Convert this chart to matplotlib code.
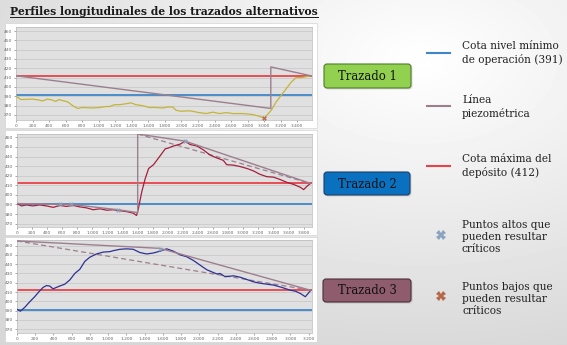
import numpy as np
import matplotlib
matplotlib.use('Agg')
import matplotlib.pyplot as plt
from matplotlib.patches import Rectangle, FancyBboxPatch
from matplotlib.lines import Line2D

# ---- datos ----
# Trazado 1 (perfil del terreno)
t1_x = [0, 60, 200, 280, 320, 380, 440, 480, 520, 560, 625, 685, 745, 805, 930, 1010,
        1090, 1130, 1190, 1250, 1330, 1390, 1450, 1530, 1610, 1690, 1770, 1835, 1895,
        1935, 1995, 2100, 2215, 2300, 2380, 2460, 2540, 2620, 2740, 2860, 2945, 3000,
        3085, 3145, 3205, 3265, 3325, 3385, 3445, 3505, 3565]
t1_z = [390, 386.5, 387, 386, 385, 387, 386, 384.5, 386.5, 385.5, 384, 380, 377, 378,
        377.5, 378, 379, 379, 381, 381, 382, 383, 381, 380, 378, 378, 377.5, 378.5,
        378.5, 375, 374, 374.5, 372.5, 371.5, 373, 371.5, 372.5, 371.5, 371.5, 370.5,
        368.5, 366.5, 375, 384, 391, 398, 405, 410, 410, 411, 412]
t1_piezo_x = [0, 3080, 3080, 3565]
t1_piezo_z = [412, 377, 421.5, 412]
t1_bajos_x = [3000]
t1_bajos_z = [366.5]

# Trazado 2
t2_x = [0, 60, 125, 210, 300, 390, 480, 570, 655, 745, 830, 920, 1010, 1100, 1190, 1275,
        1365, 1455, 1540, 1585, 1610, 1655, 1700, 1745, 1810, 1900, 1965, 2010, 2075,
        2165, 2230, 2295, 2385, 2470, 2560, 2650, 2735, 2780, 2870, 2960, 3050, 3135,
        3220, 3310, 3400, 3490, 3580, 3665, 3755, 3800, 3845, 3890]
t2_z = [391, 388.5, 389.5, 388.5, 389.5, 388.5, 387, 389, 388, 389, 387.5, 386.5, 384.5,
        385.5, 384, 384.5, 383.5, 382.5, 381, 378.5, 386, 403.5, 417, 427.5, 431.5, 441,
        448, 449, 451, 453, 456, 452.5, 451, 447, 441.5, 438.5, 436, 431.5, 431, 429.5,
        427.5, 425, 421.5, 419, 418.5, 416, 413, 411, 408, 405.5, 409, 412]
t2_piezo_x = [0, 567, 722, 1341, 1600, 1600, 2230, 3890]
t2_piezo_z = [391, 390, 390, 384.5, 381.5, 463.5, 456, 412]
t2_recta_x = [1600, 3890]
t2_recta_z = [463.5, 412]
t2_altos_x = [567, 722, 1341, 2230]
t2_altos_z = [390, 390, 384.5, 456]

# Trazado 3
t3_x = [0, 37, 84, 139, 194, 242, 286, 323, 359, 396, 432, 469, 524, 579, 634, 689, 744,
        799, 872, 946, 1019, 1056, 1129, 1202, 1275, 1349, 1422, 1495, 1569, 1642, 1715,
        1789, 1862, 1935, 2008, 2082, 2155, 2192, 2228, 2283, 2375, 2448, 2522, 2595,
        2668, 2741, 2815, 2906, 2998, 3053, 3108, 3163, 3218]
t3_z = [391.5, 389.5, 393.5, 399.5, 405, 410.5, 415, 417, 416.5, 413.5, 415, 416.5, 418.5,
        423, 430, 434.5, 443, 447.5, 451, 453, 453.5, 454.5, 456, 456.5, 456, 452.5, 451,
        452, 454, 456.5, 454, 450, 448, 444, 439, 434, 431, 429.5, 430, 426.5, 427.5,
        426, 423.5, 421, 419.5, 418.5, 417.5, 415, 412, 411, 408.5, 405, 411.5]
t3_piezo_x = [0, 1569, 3218]
t3_piezo_z = [465, 457, 412]
t3_recta_x = [0, 3218]
t3_recta_z = [465, 412]
t3_altos_x = [1569]
t3_altos_z = [456.5]

cota_min = 391
cota_max = 412

W, H = 567, 345
SERIF = 'DejaVu Serif'

fig = plt.figure(figsize=(W / 100, H / 100), dpi=100)

# fondo de la diapositiva (coordenadas en píxeles)
bg = fig.add_axes([0, 0, 1, 1])
bg.set_xlim(0, W)
bg.set_ylim(H, 0)
bg.axis('off')
yy, xx = np.mgrid[0:H, 0:W]
d = np.hypot((xx - 420) / W, (yy - 60) / H)
g = 1 - 0.16 * np.clip(d / 0.9, 0, 1)
bg.imshow(g, cmap='gray', vmin=0, vmax=1, extent=(0, W, H, 0), aspect='auto', zorder=0)

ROJO = '#e8424a'
AZUL = '#3f86c8'
PIEZO = '#9c7f8f'
ALTO = '#8aa4bf'
BAJO = '#b5694a'


def panel(plot_px, frame_px, x, z, color, xlim, ylim, xmax_tick,
          piezo, recta=None, altos=None, bajos=None):
    fl, ft, fr, fb = frame_px
    bg.add_patch(Rectangle((fl, ft), fr - fl, fb - ft, fc='white', ec='#d4d4d4',
                           lw=0.5, zorder=1))
    l, t, r, b = plot_px
    ax = fig.add_axes([l / W, 1 - b / H, (r - l) / W, (b - t) / H])
    ax.set_facecolor('#e0e0e0')
    ax.set_xlim(*xlim)
    ax.set_ylim(*ylim)
    ax.set_yticks(range(370, 461, 10))
    xt = list(range(0, xmax_tick + 1, 200))
    ax.set_xticks(xt)
    ax.set_xticklabels([f'{v:,}'.replace(',', '.') for v in xt])
    ax.tick_params(labelsize=3.2, colors='#666666', length=1.5, width=0.4, pad=1.2)
    ax.grid(axis='y', color='#c6c6c6', lw=0.5)
    ax.set_axisbelow(True)
    for s in ax.spines.values():
        s.set_color('#b8b8b8')
        s.set_linewidth(0.5)
    ax.axhline(cota_max, color=ROJO, lw=1.3, zorder=2)
    ax.axhline(cota_min, color=AZUL, lw=1.3, zorder=2)
    if recta is not None:
        ax.plot(recta[0], recta[1], color=PIEZO, lw=0.9, ls=(0, (4, 2.5)), zorder=3)
    ax.plot(x, z, color=color, lw=0.9, zorder=4)
    ax.plot(piezo[0], piezo[1], color=PIEZO, lw=1.0, zorder=5)
    if altos is not None:
        ax.plot(altos[0], altos[1], 'X', color=ALTO, ms=3.5, mew=0, alpha=0.8, zorder=6)
    if bajos is not None:
        ax.plot(bajos[0], bajos[1], 'X', color=BAJO, ms=3.5, mew=0, alpha=0.9, zorder=6)
    return ax


panel((16, 27, 312, 120), (5, 23, 317, 128), t1_x, t1_z, '#c4b43a',
      (0, 3578), (364.6, 464.3), 3400, (t1_piezo_x, t1_piezo_z),
      bajos=(t1_bajos_x, t1_bajos_z))
panel((17, 134, 312, 227), (5, 130, 317, 235), t2_x, t2_z, '#a3203f',
      (0, 3911), (366.5, 463.5), 3800, (t2_piezo_x, t2_piezo_z),
      recta=(t2_recta_x, t2_recta_z), altos=(t2_altos_x, t2_altos_z))
panel((17, 240, 312, 333), (5, 237, 317, 342), t3_x, t3_z, '#2e3192',
      (0, 3236), (366, 466), 3200, (t3_piezo_x, t3_piezo_z),
      recta=(t3_recta_x, t3_recta_z), altos=(t3_altos_x, t3_altos_z))

# título subrayado
titulo = bg.text(10, 11.5, 'Perfiles longitudinales de los trazados alternativos',
                 fontfamily=SERIF, fontweight='bold', fontsize=7.75, va='center',
                 ha='left', color='#1a1a1a', zorder=5)

# cajas de los trazados
cajas = [('Trazado 1', 324, 64, 87, 24, '#92d050', '#4f7a28'),
         ('Trazado 2', 324, 172, 86, 23, '#0a70c0', '#1f3f66'),
         ('Trazado 3', 323, 279, 88, 23, '#8e5c6c', '#4a2e3a')]
for txt, x0, y0, w, h, fc, ec in cajas:
    bg.add_patch(FancyBboxPatch((x0 + 1.5, y0 + 1.5), w, h,
                                boxstyle='round,pad=0,rounding_size=3',
                                fc='#000000', ec='none', alpha=0.12, zorder=2))
    bg.add_patch(FancyBboxPatch((x0, y0), w, h, boxstyle='round,pad=0,rounding_size=3',
                                fc=fc, ec=ec, lw=0.8, zorder=3))
    bg.text(x0 + w / 2, y0 + h / 2 + 0.5, txt, fontfamily=SERIF, fontsize=8.4,
            ha='center', va='center', color='#111111', zorder=4)

# leyenda
leyenda = [(AZUL, 52.7, 'Cota nivel mínimo\nde operación (391)', 53),
           (PIEZO, 106, 'Línea\npiezométrica', 107),
           (ROJO, 165.7, 'Cota máxima del\ndepósito (412)', 166)]
for col, yl, txt, yt in leyenda:
    bg.add_line(Line2D([427, 450], [yl, yl], color=col, lw=1.5, zorder=3))
    bg.text(462, yt, txt, fontfamily=SERIF, fontsize=7.6, va='center', ha='left',
            color='#222222', linespacing=1.3, zorder=4)

bg.plot([440.7], [235], 'X', color=ALTO, ms=7, mew=0, zorder=3)
bg.text(461.5, 237.5, 'Puntos altos que\npueden resultar\ncríticos', fontfamily=SERIF,
        fontsize=7.6, va='center', ha='left', color='#222222', linespacing=1.25, zorder=4)
bg.plot([440.7], [296], 'X', color=BAJO, ms=7, mew=0, zorder=3)
bg.text(462.5, 298.5, 'Puntos bajos que\npueden resultar\ncríticos', fontfamily=SERIF,
        fontsize=7.6, va='center', ha='left', color='#222222', linespacing=1.25, zorder=4)

# subrayado del título
fig.canvas.draw()
bb = titulo.get_window_extent().transformed(bg.transData.inverted())
bg.add_line(Line2D([bb.x0, bb.x1], [17, 17], color='#1a1a1a', lw=0.7, zorder=5))

fig.savefig('out.png', dpi=100)
